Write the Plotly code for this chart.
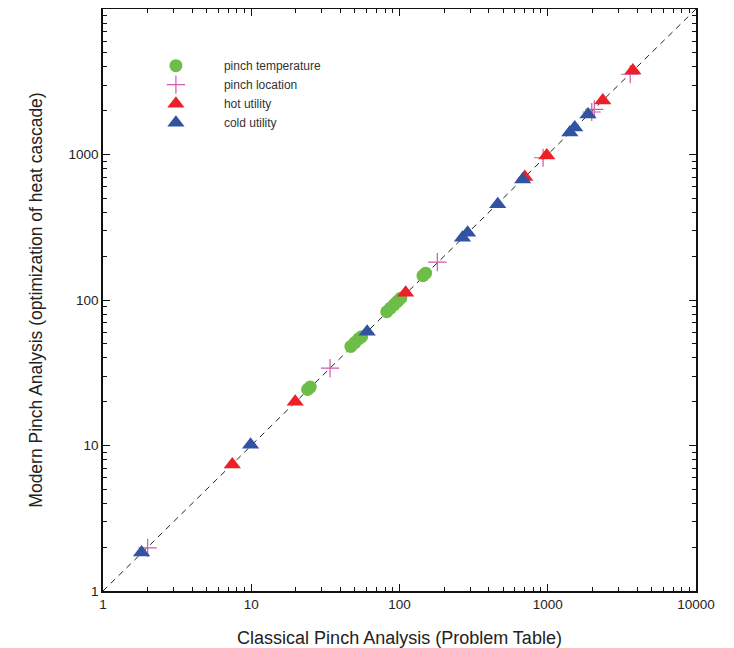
import plotly.graph_objects as go

# pinch temperature
temp_x = [24, 25, 47, 50, 53, 55.5, 82, 87, 92, 97, 102, 144, 150]
temp_y = [24.3, 25.2, 48, 51, 54, 56, 83, 88, 93, 98, 103, 147, 153]
# pinch location
loc_x = [2.0, 34, 180, 930, 1980, 2060, 3600]
loc_y = [1.98, 34, 182, 950, 1960, 2040, 3560]
# hot utility
hot_x = [7.45, 19.8, 110, 700, 985, 2350, 3750]
hot_y = [7.4, 20, 112, 700, 985, 2350, 3780]
# cold utility
cold_x = [1.82, 9.9, 60.5, 266, 288, 460, 678, 1410, 1520, 1870]
cold_y = [1.84, 10.1, 60.5, 268, 290, 455, 674, 1415, 1535, 1885]
# identity line
diag = [1, 10000]

# tick labels
x_ticks = [1, 10, 100, 1000, 10000]
x_labels = ["1", "10", "100", "1000", "10000"]
y_ticks = [1, 10, 100, 1000]
y_labels = ["1", "10", "100", "1000"]
minor_ticks = [m * 10 ** k for k in range(4) for m in range(2, 10)]

GREEN = "rgb(108,190,72)"
PINK = "rgb(205,90,175)"
RED = "rgb(236,32,38)"
BLUE = "rgb(50,82,162)"
FONT = "Liberation Sans, Arial, sans-serif"

fig = go.Figure()
fig.add_trace(go.Scatter(x=diag, y=diag, mode="lines", showlegend=False,
                         line=dict(color="#222", width=1, dash="6px,5px"),
                         hoverinfo="skip"))
fig.add_trace(go.Scatter(x=temp_x, y=temp_y, mode="markers", name="pinch temperature",
                         legendrank=1,
                         marker=dict(symbol="circle", size=13, color=GREEN)))
fig.add_trace(go.Scatter(x=loc_x, y=loc_y, mode="markers", name="pinch location",
                         legendrank=2,
                         marker=dict(symbol="cross-thin", size=13, color=PINK,
                                     line=dict(color=PINK, width=1.2))))
fig.add_trace(go.Scatter(x=hot_x, y=hot_y, mode="markers", name="hot utility",
                         legendrank=3,
                         marker=dict(symbol="triangle-up", size=15, color=RED)))
fig.add_trace(go.Scatter(x=cold_x, y=cold_y, mode="markers", name="cold utility",
                         legendrank=4,
                         marker=dict(symbol="triangle-up", size=15, color=BLUE)))

axis_common = dict(
    type="log", range=[0, 4], tickmode="array",
    showline=True, linecolor="#111", linewidth=1.5, mirror="ticks",
    ticks="inside", ticklen=7, tickwidth=1, tickcolor="#111",
    minor=dict(ticks="inside", ticklen=4, tickmode="array", tickvals=minor_ticks,
               tickcolor="#111", showgrid=False),
    showgrid=False, zeroline=False, automargin=False,
    tickfont=dict(family=FONT, size=13.5, color="#222"),
)

fig.update_xaxes(**axis_common, tickvals=x_ticks, ticktext=x_labels,
                 title=dict(text="Classical Pinch Analysis (Problem Table)",
                            font=dict(family=FONT, size=18, color="#222"), standoff=21))
fig.update_yaxes(**axis_common, tickvals=y_ticks, ticktext=y_labels,
                 title=dict(text="Modern Pinch Analysis (optimization of heat cascade)",
                            font=dict(family=FONT, size=17.5, color="#222"), standoff=21))

fig.update_layout(
    width=726, height=640,
    margin=dict(l=95, r=38, t=1, b=57),
    plot_bgcolor="white", paper_bgcolor="white",
    showlegend=True,
    legend=dict(x=0.042, y=0.9275, xanchor="left", yanchor="top",
                bgcolor="rgba(0,0,0,0)", itemwidth=86,
                tracegroupgap=0,
                font=dict(family=FONT, size=12, color="#333")),
)

fig.write_html("out.html")
